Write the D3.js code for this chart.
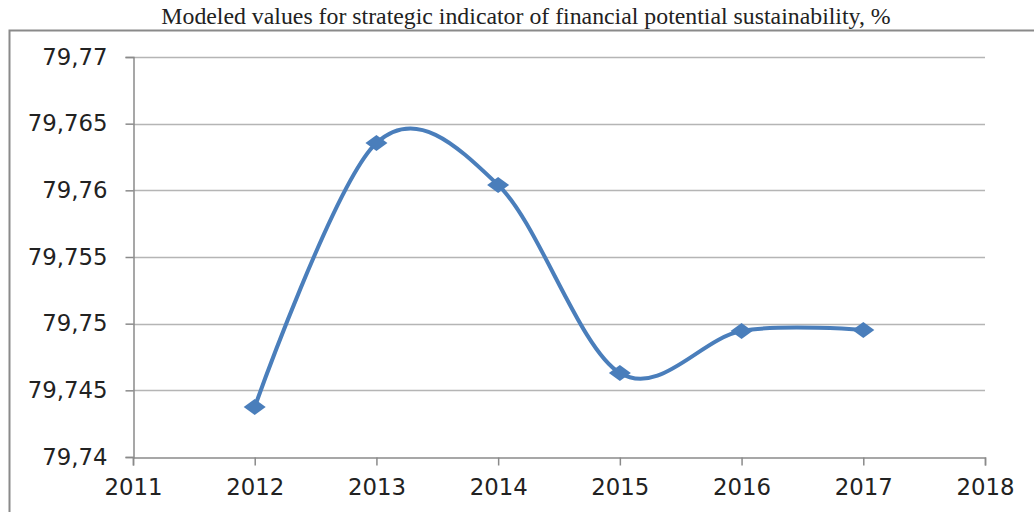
<!DOCTYPE html>
<html>
<head>
<meta charset="utf-8">
<script src="https://cdn.jsdelivr.net/npm/d3@7"></script>
<style>
  body { margin: 0; background: #fff; }
  svg text { fill: #222; }
</style>
</head>
<body>
<div id="chart"></div>
<script>
const LINE_COLOR = "#4a7ebb";
const GRID_COLOR = "#b5b5b5";
const years = [2012, 2013, 2014, 2015, 2016, 2017];
const values = [79.74375, 79.76355, 79.7604, 79.7463, 79.74945, 79.74953];
const xTicks = [2011, 2012, 2013, 2014, 2015, 2016, 2017, 2018];
const yTicks = [79.74, 79.745, 79.75, 79.755, 79.76, 79.765, 79.77];
const title = "Modeled values for strategic indicator of financial potential sustainability, %";

let width = 1034, height = 512;
let svg = d3.select("#chart").append("svg").attr("width", width).attr("height", height);

// outer frame (only top + left visible in the crop)
svg.append("path").attr("d", "M9.5,512 L9.5,30.5 L1034,30.5")
    .attr("fill", "none").attr("stroke", "#8a8a8a").attr("stroke-width", 2);

svg.append("text").attr("x", 526).attr("y", 24).attr("text-anchor", "middle")
    .style("font-family", "'Liberation Serif', 'Times New Roman', serif")
    .style("font-size", "23.8px").text(title);

let x = d3.scaleLinear().domain([2011, 2018]).range([133, 985]);
let y = d3.scaleLinear().domain([79.74, 79.77]).range([457, 57]);
let fmt = function (d) { return d3.format("~g")(d).replace(".", ","); };

// gridlines
svg.append("g").selectAll("line").data(yTicks.slice(1)).join("line")
    .attr("x1", x(2011)).attr("x2", x(2018))
    .attr("y1", d => Math.round(y(d)) + 0.5).attr("y2", d => Math.round(y(d)) + 0.5)
    .attr("stroke", GRID_COLOR).attr("stroke-width", 1.5);

// y axis
let yAxis = svg.append("g").attr("transform", "translate(" + (x(2011) + 0.5) + ",0)")
    .call(d3.axisLeft(y).tickValues(yTicks).tickFormat(fmt).tickSize(8).tickPadding(18));
// x axis
let xAxis = svg.append("g").attr("transform", "translate(0," + (y(79.74) + 0.5) + ")")
    .call(d3.axisBottom(x).tickValues(xTicks).tickFormat(d3.format("d")).tickSize(8).tickPadding(13));

[yAxis, xAxis].forEach(function (a) {
    a.select(".domain").attr("stroke", "#8a8a8a").attr("stroke-width", 1.5);
    a.selectAll(".tick line").attr("stroke", "#8a8a8a").attr("stroke-width", 1.5);
    a.selectAll("text").style("font-family", "'DejaVu Sans', Verdana, sans-serif")
        .style("font-size", "22.8px").attr("fill", "#222");
});

let pts = years.map((d, i) => [x(d), y(values[i])]);
let line = d3.line().curve(d3.curveCardinal.tension(0));
svg.append("path").attr("d", line(pts)).attr("fill", "none")
    .attr("stroke", LINE_COLOR).attr("stroke-width", 4);

svg.append("g").selectAll("path").data(pts).join("path")
    .attr("transform", d => "translate(" + d[0] + "," + d[1] + ")")
    .attr("d", "M0,-8 L11,0 L0,8 L-11,0 Z")
    .attr("fill", LINE_COLOR);
</script>
</body>
</html>
